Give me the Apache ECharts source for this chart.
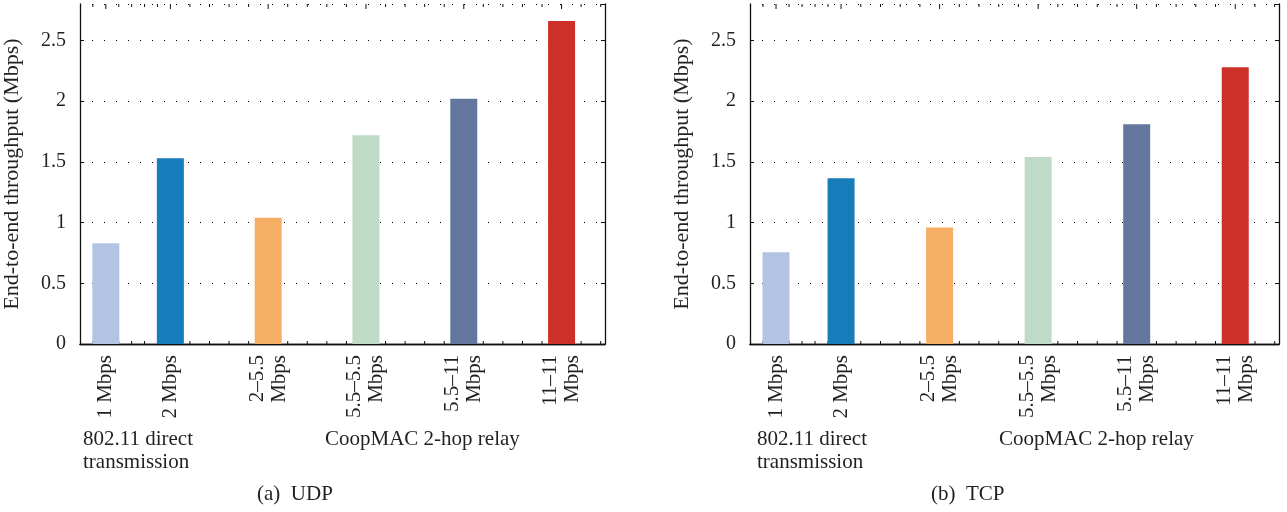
<!DOCTYPE html>
<html>
<head>
<meta charset="utf-8">
<script src="https://cdn.jsdelivr.net/npm/echarts@6/dist/echarts.min.js"></script>
<style>
  html, body { margin: 0; padding: 0; background: #fff; }
  #main { width: 1287px; height: 512px; }
</style>
</head>
<body>
<div id="main"></div>
<script>
// 数据
const categories = ['1 Mbps', '2 Mbps', '2–5.5\nMbps', '5.5–5.5\nMbps', '5.5–11\nMbps', '11–11\nMbps'];
const positions = [0.34, 1, 2, 3, 4, 5];
const udpValues = [0.83, 1.53, 1.04, 1.72, 2.02, 2.66];
const tcpValues = [0.755, 1.365, 0.96, 1.54, 1.81, 2.28];
const barColors = ['#b3c4e3', '#167cba', '#f6ae65', '#bfdac6', '#63779e', '#cc3029'];
const panelTitles = ['(a)  UDP', '(b)  TCP'];
const groupNames = ['802.11 direct\ntransmission', 'CoopMAC 2-hop relay'];
const yName = 'End-to-end throughput (Mbps)';

const FONT = '"Liberation Serif", "DejaVu Serif", serif';
const TXT = '#231f20';
const FS = 21;
const X_MIN = 0.076, X_MAX = 5.444, Y_MAX = 2.8;
const gridLefts = [76, 750];
const GRID_W = 529, GRID_TOP = 4, GRID_H = 340;

// 次刻度：主刻度在柱子位置，之间等分为5段
function buildTicks() {
    let ticks = [];
    positions.forEach((p, i) => {
        ticks.push([p, 1]);
        if (i < positions.length - 1) {
            let d = (positions[i + 1] - p) / 5;
            for (let k = 1; k < 5; k++) ticks.push([p + k * d, 0]);
        }
    });
    ticks.push([positions[0] - (positions[1] - positions[0]) / 5, 0]);
    ticks.push([positions[5] + 0.2, 0]);
    ticks.push([positions[5] + 0.4, 0]);
    return ticks;
}
const tickData = buildTicks();

let grids = [], xAxes = [], yAxes = [], series = [], graphics = [];

[udpValues, tcpValues].forEach((values, g) => {
    grids.push({ left: gridLefts[g], top: GRID_TOP, width: GRID_W, height: GRID_H });
    // 下边框和上边框
    xAxes.push({
        type: 'value', gridIndex: g, min: X_MIN, max: X_MAX, position: 'bottom',
        axisLine: { show: true, lineStyle: { color: '#111', width: 1.3 } },
        axisTick: { show: false }, axisLabel: { show: false }, splitLine: { show: false }
    });
    xAxes.push({
        type: 'value', gridIndex: g, min: X_MIN, max: X_MAX, position: 'top',
        axisLine: { show: true, lineStyle: { color: '#111', width: 1.3 } },
        axisTick: { show: false }, axisLabel: { show: false }, splitLine: { show: false }
    });
    yAxes.push({
        type: 'value', gridIndex: g, min: 0, max: Y_MAX, interval: 0.5, position: 'left',
        name: yName, nameLocation: 'middle', nameGap: 57,
        nameTextStyle: { fontFamily: FONT, fontSize: 22, color: TXT },
        axisLine: { show: true, lineStyle: { color: '#111', width: 1.3 } },
        axisTick: { show: true, inside: true, length: 4, lineStyle: { color: '#111' } },
        axisLabel: { fontFamily: FONT, fontSize: 20, color: TXT, margin: 14, showMaxLabel: false },
        splitLine: { show: true, lineStyle: { color: '#000', width: 1, type: [1, 11] } }
    });
    yAxes.push({
        type: 'value', gridIndex: g, min: 0, max: Y_MAX, interval: 0.5, position: 'right',
        axisLine: { show: true, lineStyle: { color: '#111', width: 1.3 } },
        axisTick: { show: true, inside: true, length: 4, lineStyle: { color: '#111' } },
        axisLabel: { show: false }, splitLine: { show: false }
    });

    series.push({
        type: 'bar', xAxisIndex: g * 2, yAxisIndex: g * 2, barWidth: 27,
        data: positions.map((p, i) => ({ value: [p, values[i]], itemStyle: { color: barColors[i] } })),
        silent: true
    });
    // x轴刻度(朝内)
    series.push({
        type: 'custom', xAxisIndex: g * 2, yAxisIndex: g * 2, clip: false, silent: true,
        data: tickData,
        renderItem: function (params, api) {
            let len = api.value(1) ? 5 : 3;
            let b = api.coord([api.value(0), 0]);
            let t = api.coord([api.value(0), Y_MAX]);
            let st = { stroke: '#111', lineWidth: 1 };
            return {
                type: 'group', children: [
                    { type: 'line', shape: { x1: b[0], y1: b[1], x2: b[0], y2: b[1] - len }, style: st },
                    { type: 'line', shape: { x1: t[0], y1: t[1], x2: t[0], y2: t[1] + len }, style: st }
                ]
            };
        }
    });
    // x轴标签(旋转90度)
    series.push({
        type: 'custom', xAxisIndex: g * 2, yAxisIndex: g * 2, clip: false, silent: true,
        data: positions.map((p, i) => [p, i]),
        renderItem: function (params, api) {
            let pt = api.coord([api.value(0), 0]);
            return {
                type: 'text', x: pt[0], y: pt[1] + 11, rotation: Math.PI / 2,
                style: {
                    text: categories[api.value(1)], align: 'right', verticalAlign: 'middle',
                    fontFamily: FONT, fontSize: FS, lineHeight: 22, fill: TXT
                }
            };
        }
    });

    graphics.push({
        type: 'text', left: gridLefts[g] + 7, top: 428,
        style: { text: groupNames[0], fontFamily: FONT, fontSize: FS, lineHeight: 23, fill: TXT }
    });
    graphics.push({
        type: 'text', left: gridLefts[g] + 249, top: 428,
        style: { text: groupNames[1], fontFamily: FONT, fontSize: FS, lineHeight: 23, fill: TXT }
    });
    graphics.push({
        type: 'text', left: gridLefts[g] + 181, top: 484,
        style: { text: panelTitles[g], fontFamily: FONT, fontSize: FS, fill: TXT }
    });
});

let myChart = echarts.init(document.getElementById('main'));
myChart.setOption({
    animation: false,
    grid: grids,
    xAxis: xAxes,
    yAxis: yAxes,
    series: series,
    graphic: graphics
});
</script>
</body>
</html>
